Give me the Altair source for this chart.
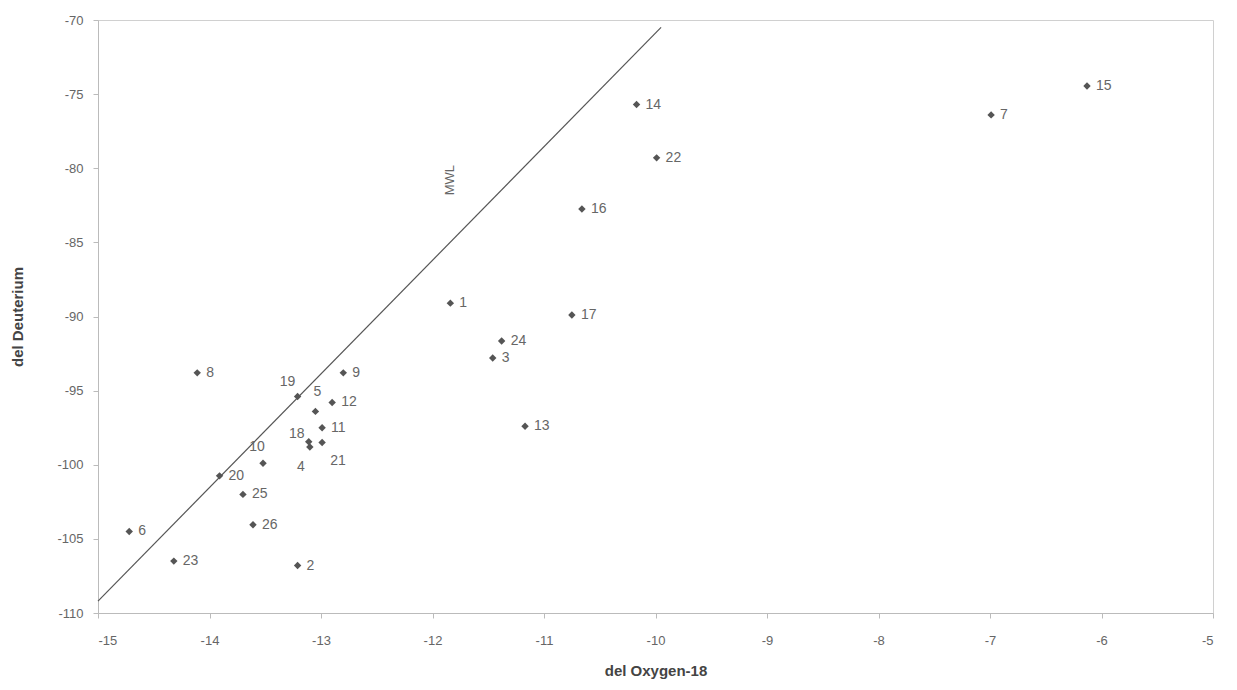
import altair as alt
import pandas as pd

labels = [str(i) for i in range(1, 27)]
oxygen18 = [-11.84, -13.21, -11.46, -13.10, -13.05, -14.72, -6.99, -14.11, -12.80, -13.52,
            -12.99, -12.90, -11.17, -10.17, -6.13, -10.66, -10.75, -13.11, -13.21, -13.91,
            -12.99, -9.99, -14.32, -11.38, -13.70, -13.61]
deuterium = [-89.1, -106.8, -92.8, -98.8, -96.4, -104.5, -76.4, -93.8, -93.8, -99.9,
             -97.5, -95.8, -97.4, -75.7, -74.45, -82.75, -89.9, -98.45, -95.4, -100.75,
             -98.5, -79.3, -106.5, -91.65, -102.0, -104.05]

mwl_x = [-15.0, -9.95]
mwl_y = [-109.2, -70.5]
mwl_label = "MWL"
mwl_label_x = [-11.84]
mwl_label_y = [-80.8]

x_ticks = list(range(-15, -4))
y_ticks = list(range(-110, -69, 5))

df = pd.DataFrame({"label": labels, "o18": oxygen18, "dD": deuterium})
line_df = pd.DataFrame({"o18": mwl_x, "dD": mwl_y})
ann_df = pd.DataFrame({"o18": mwl_label_x, "dD": mwl_label_y, "t": [mwl_label]})

FONT = "Liberation Sans"
DARK = "#555555"

xscale = alt.Scale(domain=[-15, -5], nice=False, zero=False)
yscale = alt.Scale(domain=[-110, -70], nice=False, zero=False)

xaxis = alt.Axis(values=x_ticks, title="del Oxygen-18", grid=False, tickSize=5,
                 labelPadding=16, titlePadding=16, labelFontSize=13, titleFontSize=15,
                 labelExpr="'' + datum.value",
                 labelColor="#666666", titleColor="#444444", titleFontWeight="bold",
                 domainColor="#bbbbbb", tickColor="#bbbbbb", labelFont=FONT, titleFont=FONT)
yaxis = alt.Axis(values=y_ticks, title="del Deuterium", grid=False, tickSize=5,
                 labelPadding=10, titlePadding=31, labelFontSize=13, titleFontSize=15,
                 labelExpr="'' + datum.value",
                 labelColor="#666666", titleColor="#444444", titleFontWeight="bold",
                 domainColor="#bbbbbb", tickColor="#bbbbbb", labelFont=FONT, titleFont=FONT)

X = alt.X("o18:Q", scale=xscale, axis=xaxis)
Y = alt.Y("dD:Q", scale=yscale, axis=yaxis)

line = alt.Chart(line_df).mark_line(color=DARK, strokeWidth=1.2).encode(x=X, y=Y)

points = alt.Chart(df).mark_point(shape="diamond", filled=True, color=DARK, size=55,
                                  opacity=1).encode(x=X, y=Y)

special = ["19", "5", "18", "4", "21", "10"]
base_txt = alt.Chart(df).encode(x=X, y=Y, text="label:N")

def txt(dx, dy, align="left"):
    return base_txt.mark_text(font=FONT, fontSize=14, color="#666666", dx=dx, dy=dy,
                              align=align, baseline="middle")

layers = [line, points,
          txt(9, 0).transform_filter(~alt.FieldOneOfPredicate(field="label", oneOf=special)),
          txt(-10, -15, "center").transform_filter(alt.datum.label == "19"),
          txt(2, -19, "center").transform_filter(alt.datum.label == "5"),
          txt(-12, -8, "center").transform_filter(alt.datum.label == "18"),
          txt(-9, 20, "center").transform_filter(alt.datum.label == "4"),
          txt(16, 18, "center").transform_filter(alt.datum.label == "21"),
          txt(-6, -16, "center").transform_filter(alt.datum.label == "10"),
          alt.Chart(ann_df).mark_text(font=FONT, fontSize=13, color="#666666", angle=270,
                                      align="center", baseline="middle").encode(
              x=X, y=Y, text="t:N")]

chart = alt.layer(*layers).properties(
    width=1115, height=593,
    padding={"left": 98, "top": 20, "right": 24, "bottom": 77},
    autosize="none",
    background="white",
).configure_view(stroke="#d0d0d0")

chart.save("out.html", embed_options={"renderer": "svg", "actions": False})
